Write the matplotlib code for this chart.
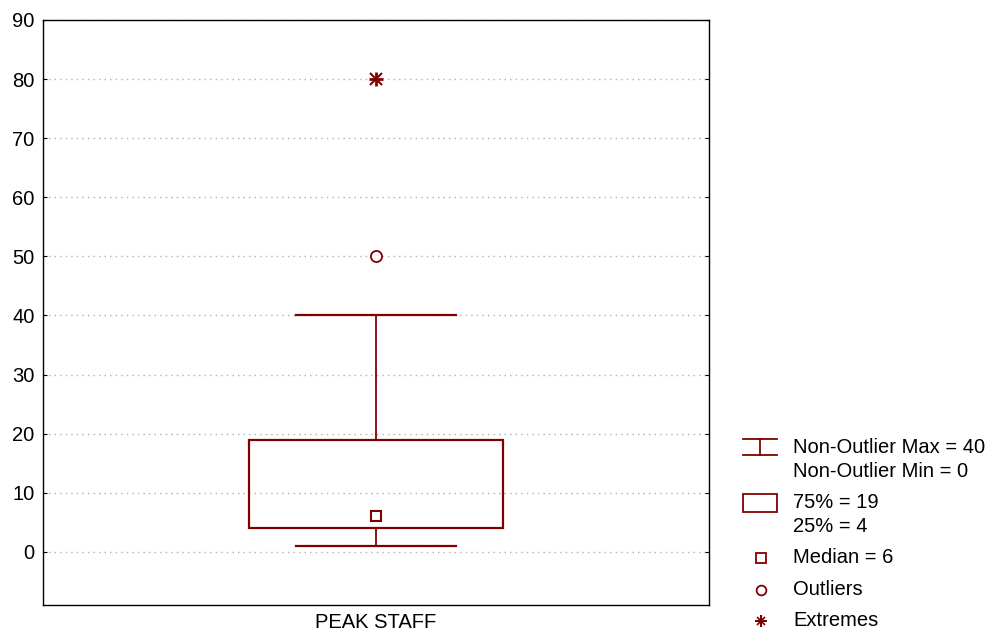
import matplotlib.pyplot as plt
from matplotlib.patches import Rectangle

plt.rcParams['font.family'] = ['Liberation Sans', 'DejaVu Sans']

# Box plot summary
category = 'PEAK STAFF'
q1, q3 = 4, 19
median = 6
whisker_lo, whisker_hi = 1, 40
outliers = [50]
extremes = [80]
legend_labels = [('Non-Outlier Max = 40', 'Non-Outlier Min = 0'),
                 ('75% = 19', '25% = 4'),
                 'Median = 6', 'Outliers', 'Extremes']
yticks = list(range(0, 100, 10))

color = '#800000'

fig = plt.figure(figsize=(9.9, 6.34), dpi=100)
ax = fig.add_axes([43/990, 1-605/634, 666/990, 585/634])

x0 = 0.5
box_w = 0.38
cap_w = 0.24

ax.grid(axis='y', linestyle=(0, (1, 3)), color='#b0b0b0', linewidth=1)
ax.set_axisbelow(True)

ax.add_patch(Rectangle((x0 - box_w/2, q1), box_w, q3 - q1, fill=False,
                       edgecolor=color, linewidth=1.6, zorder=3))
ax.plot([x0, x0], [q3, whisker_hi], color=color, lw=1.3, zorder=3)
ax.plot([x0, x0], [whisker_lo, q1], color=color, lw=1.3, zorder=3)
ax.plot([x0 - cap_w/2, x0 + cap_w/2], [whisker_hi, whisker_hi], color=color, lw=1.6, zorder=3)
ax.plot([x0 - cap_w/2, x0 + cap_w/2], [whisker_lo, whisker_lo], color=color, lw=1.6, zorder=3)
ax.plot([x0], [median], marker='s', ms=7.5, mfc='white', mec=color, mew=1.5, zorder=4)
ax.plot([x0]*len(outliers), outliers, 'o', ms=8, mfc='white', mec=color, mew=1.3, zorder=4)
ax.plot([x0]*len(extremes), extremes, marker='+', ms=10, mew=2, color=color, ls='none', zorder=4)
ax.plot([x0]*len(extremes), extremes, marker='x', ms=8, mew=1.5, color=color, ls='none', zorder=4)

ax.set_xlim(0, 1)
ax.set_ylim(-9, 90)
ax.set_yticks(yticks)
ax.set_xticks([x0])
ax.set_xticklabels([category])
ax.tick_params(axis='y', direction='in', length=3, labelsize=14.5, right=True, pad=6)
ax.tick_params(axis='x', length=0, labelsize=14.5, pad=6)
for s in ax.spines.values():
    s.set_linewidth(1)

# Legend drawn in pixel coordinates
lg = fig.add_axes([720/990, 0, 270/990, 214/634])
lg.set_xlim(720, 990)
lg.set_ylim(634, 420)
lg.axis('off')
fs = 14.5
lg.plot([743, 777], [439, 439], color=color, lw=1.3)
lg.plot([743, 777], [455, 455], color=color, lw=1.3)
lg.plot([760, 760], [439, 455], color=color, lw=1.3)
lg.text(793, 448, legend_labels[0][0], fontsize=fs, va='center')
lg.text(793, 472, legend_labels[0][1], fontsize=fs, va='center')
lg.add_patch(Rectangle((743, 494), 34, 18, fill=False, edgecolor=color, lw=1.3))
lg.text(793, 503, legend_labels[1][0], fontsize=fs, va='center')
lg.text(793, 527, legend_labels[1][1], fontsize=fs, va='center')
lg.plot([761], [558], marker='s', ms=7, mfc='white', mec=color, mew=1.3)
lg.text(793, 558, legend_labels[2], fontsize=fs, va='center')
lg.plot([761], [590], marker='o', ms=7, mfc='white', mec=color, mew=1.3)
lg.text(793, 590, legend_labels[3], fontsize=fs, va='center')
lg.plot([761], [621], marker='+', ms=8, mew=1.5, color=color)
lg.plot([761], [621], marker='x', ms=6, mew=1.2, color=color)
lg.text(793, 621, legend_labels[4], fontsize=fs, va='center')

fig.savefig('out.png', dpi=100)
